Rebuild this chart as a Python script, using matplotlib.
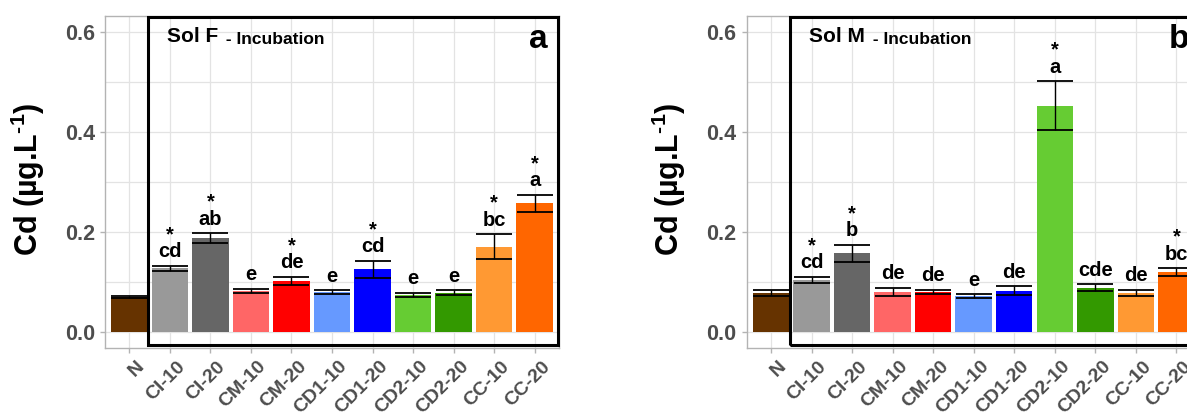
import numpy as np
import matplotlib
matplotlib.use("Agg")
import matplotlib.pyplot as plt
from matplotlib.patches import Rectangle
from matplotlib.ticker import FormatStrFormatter
from matplotlib.transforms import ScaledTranslation, blended_transform_factory

OUT_FILE = "out.png"

TREATMENTS = ["N", "CI-10", "CI-20", "CM-10", "CM-20", "CD1-10", "CD1-20",
              "CD2-10", "CD2-20", "CC-10", "CC-20"]
BAR_COLORS = ["#663300", "#999999", "#666666", "#FF6666", "#FF0000", "#6699FF",
              "#0000FF", "#66CC33", "#339900", "#FF9933", "#FF6600"]

# Sol F - Incubation
SOL_F_MEAN = [0.069, 0.127, 0.187, 0.082, 0.102, 0.079, 0.125, 0.074, 0.078, 0.170, 0.257]
SOL_F_SE = [0.002, 0.005, 0.010, 0.004, 0.008, 0.004, 0.017, 0.004, 0.005, 0.025, 0.017]
SOL_F_LETTERS = ["", "cd", "ab", "e", "de", "e", "cd", "e", "e", "bc", "a"]
SOL_F_STARS = [False, True, True, False, True, False, True, False, False, True, True]

# Sol M - Incubation
SOL_M_MEAN = [0.078, 0.104, 0.157, 0.080, 0.080, 0.071, 0.082, 0.452, 0.088, 0.078, 0.119]
SOL_M_SE = [0.006, 0.006, 0.017, 0.008, 0.004, 0.004, 0.009, 0.049, 0.007, 0.006, 0.008]
SOL_M_LETTERS = ["", "cd", "b", "de", "de", "e", "de", "a", "cde", "de", "bc"]
SOL_M_STARS = [False, True, True, False, False, False, False, True, False, False, True]

Y_LABEL = r"Cd (µg.L$^{\text{-1}}$)"

plt.rcParams["font.family"] = ["Liberation Sans", "DejaVu Sans"]
plt.rcParams["font.weight"] = "bold"
plt.rcParams["mathtext.fontset"] = "custom"
plt.rcParams["mathtext.rm"] = "Liberation Sans:bold"
plt.rcParams["mathtext.bf"] = "Liberation Sans:bold"
plt.rcParams["mathtext.default"] = "rm"

W, H = 1187, 420
AX_W, AX_H = 454, 332
AX_BOTTOM = 420 - 347.7


def draw_panel(fig, ax, means, ses, letters, stars, title, tag):
    x = np.arange(len(TREATMENTS))
    ax.set_xlim(-0.6, 10.6)
    ax.set_ylim(-0.032, 0.632)

    ax.bar(x, means, width=0.9, color=BAR_COLORS, zorder=2)
    # caps as wide as the bars
    cap = 0.9 * (AX_W / 11.2) / 2 * 72 / 100
    ax.errorbar(x, means, yerr=ses, fmt="none", ecolor="black", elinewidth=1.0,
                capsize=cap, capthick=1.3, zorder=3)

    for xi, m, s, lab, star in zip(x, means, ses, letters, stars):
        if not lab:
            continue
        ly = m + s + 0.017
        ax.text(xi, ly, lab, ha="center", va="baseline", fontsize=14.5, zorder=5)
        if star:
            ax.text(xi, ly + 0.034, "*", ha="center", va="baseline", fontsize=14.5, zorder=5)

    # grid
    ax.set_axisbelow(True)
    ax.set_xticks(x)
    ax.set_xticklabels(TREATMENTS, rotation=45, ha="right", va="top", rotation_mode="anchor")
    ax.set_yticks([0.0, 0.2, 0.4, 0.6])
    ax.set_yticks([0.1, 0.3, 0.5], minor=True)
    ax.yaxis.set_major_formatter(FormatStrFormatter("%.1f"))
    ax.grid(which="major", color="#E3E3E3", lw=0.9, zorder=0)
    ax.grid(which="minor", axis="y", color="#E3E3E3", lw=0.9, zorder=0)

    for sp in ax.spines.values():
        sp.set_color("#B3B3B3")
        sp.set_linewidth(1.0)
    ax.tick_params(which="major", length=3.3, width=1.0, color="#B3B3B3",
                   labelcolor="#4D4D4D")
    ax.tick_params(which="minor", length=0)
    ax.tick_params(axis="y", labelsize=15.5, pad=4)
    ax.tick_params(axis="x", labelsize=14, pad=4)
    shift = ScaledTranslation(4.7 / 72, 0, fig.dpi_scale_trans)
    for lbl in ax.get_xticklabels():
        lbl.set_transform(lbl.get_transform() + shift)

    # black frame around the treated samples
    trans = blended_transform_factory(ax.transData, ax.transAxes)
    ax.add_patch(Rectangle((0.47, 0.009), 10.578 - 0.47, 0.987, transform=trans,
                           fill=False, ec="black", lw=2.2, zorder=6, clip_on=False))

    t1 = ax.text(0.137, 0.92, title, transform=ax.transAxes, fontsize=15,
                 va="baseline", zorder=7)
    ax.annotate(" - Incubation", xy=(1, 0), xycoords=t1, xytext=(2.0, -0.4),
                textcoords="offset points", fontsize=12.5, va="bottom", zorder=7)
    ax.text(0.974, 0.903, tag, transform=ax.transAxes, fontsize=24,
            ha="right", va="baseline", zorder=7)


def main():
    fig = plt.figure(figsize=(W / 100, H / 100), dpi=100)
    ax_f = fig.add_axes([105 / W, AX_BOTTOM / H, AX_W / W, AX_H / H])
    ax_m = fig.add_axes([746.7 / W, AX_BOTTOM / H, AX_W / W, AX_H / H])

    draw_panel(fig, ax_f, SOL_F_MEAN, SOL_F_SE, SOL_F_LETTERS, SOL_F_STARS, "Sol F", "a")
    draw_panel(fig, ax_m, SOL_M_MEAN, SOL_M_SE, SOL_M_LETTERS, SOL_M_STARS, "Sol M", "b")

    fig.text(27.5 / W, 0.572, Y_LABEL, rotation=90, ha="center", va="center", fontsize=22)
    fig.text((746.7 - 77.5) / W, 0.572, Y_LABEL, rotation=90, ha="center", va="center",
             fontsize=22)

    fig.savefig(OUT_FILE, dpi=100)


if __name__ == "__main__":
    main()
